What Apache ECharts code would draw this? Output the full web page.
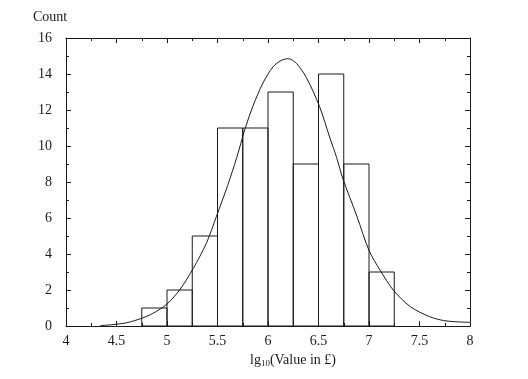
<!DOCTYPE html>
<html>
<head>
<meta charset="utf-8">
<script src="https://cdn.jsdelivr.net/npm/echarts@6/dist/echarts.min.js"></script>
<style>
html,body{margin:0;padding:0;background:#fff;}
#chart{width:528px;height:379px;}
</style>
</head>
<body>
<div id="chart"></div>
<script>
// Histogram bins (lg10 of value in £)
const binStart = [4.75, 5.0, 5.25, 5.5, 5.75, 6.0, 6.25, 6.5, 6.75, 7.0];
const binEnd   = [5.0, 5.25, 5.5, 5.75, 6.0, 6.25, 6.5, 6.75, 7.0, 7.25];
const counts   = [1, 2, 5, 11, 11, 13, 9, 14, 9, 3];

// Fitted curve
const curveX = [4.34, 4.45, 4.6, 4.75, 4.86, 5.0, 5.13, 5.26, 5.39, 5.49, 5.6, 5.69, 5.77, 5.85, 5.95, 6.05, 6.13, 6.2, 6.28, 6.38, 6.51, 6.61, 6.68, 6.74, 6.88, 7.0, 7.11, 7.24, 7.41, 7.6, 7.74, 7.85, 8.0];
const curveY = [0.02, 0.07, 0.18, 0.43, 0.7, 1.22, 2.04, 3.2, 4.6, 6.1, 7.8, 9.35, 10.9, 12.2, 13.5, 14.4, 14.75, 14.85, 14.6, 13.8, 12.2, 10.5, 9.35, 8.2, 6.1, 4.2, 3.1, 2.0, 1.07, 0.52, 0.3, 0.24, 0.2];

const xTicks = [4, 4.5, 5, 5.5, 6, 6.5, 7, 7.5, 8];
const yTicks = [0, 2, 4, 6, 8, 10, 12, 14, 16];

const bars = binStart.map((s, i) => [s, binEnd[i], counts[i]]);
const curve = curveX.map((x, i) => [x, curveY[i]]);

const font = 'Liberation Serif';
const ink = '#1a1a1a';

const chart = echarts.init(document.getElementById('chart'), null, {renderer: 'canvas'});
chart.setOption({
  animation: false,
  backgroundColor: '#fff',
  grid: {left: 66, right: 58, top: 38, bottom: 53},
  xAxis: [{
    type: 'value', min: xTicks[0], max: xTicks[xTicks.length - 1], interval: 0.5,
    position: 'bottom',
    name: '{a|lg}{b|10}{a|(Value in £)}',
    nameLocation: 'middle', nameGap: 25,
    nameTextStyle: {
      padding: [0, 0, 0, 50],
      rich: {
        a: {fontFamily: font, fontSize: 14, color: ink},
        b: {fontFamily: font, fontSize: 9, color: ink, verticalAlign: 'bottom', padding: [7, 0, 0, 0]}
      }
    },
    axisLine: {show: true, onZero: false, lineStyle: {color: ink, width: 1}},
    axisTick: {show: true, inside: true, length: 5, lineStyle: {color: ink}},
    minorTick: {show: true, splitNumber: 2, length: 3, lineStyle: {color: ink}},
    splitLine: {show: false},
    axisLabel: {fontFamily: font, fontSize: 14, color: ink, margin: 8,
      formatter: v => String(v)}
  }, {
    type: 'value', min: xTicks[0], max: xTicks[xTicks.length - 1], interval: 0.5,
    position: 'top',
    axisLine: {show: true, onZero: false, lineStyle: {color: ink, width: 1}},
    axisTick: {show: true, inside: true, length: 5, lineStyle: {color: ink}},
    minorTick: {show: true, splitNumber: 2, length: 3, lineStyle: {color: ink}},
    splitLine: {show: false},
    axisLabel: {show: false}
  }],
  yAxis: [{
    type: 'value', min: yTicks[0], max: yTicks[yTicks.length - 1], interval: 2,
    position: 'left',
    name: 'Count', nameLocation: 'end', nameGap: 14,
    nameTextStyle: {fontFamily: font, fontSize: 14, color: ink, align: 'center', padding: [0, 32, 0, 0]},
    axisLine: {show: true, onZero: false, lineStyle: {color: ink, width: 1}},
    axisTick: {show: true, inside: true, length: 5, lineStyle: {color: ink}},
    minorTick: {show: true, splitNumber: 2, length: 3, lineStyle: {color: ink}},
    splitLine: {show: false},
    axisLabel: {fontFamily: font, fontSize: 14, color: ink, margin: 14}
  }, {
    type: 'value', min: yTicks[0], max: yTicks[yTicks.length - 1], interval: 2,
    position: 'right',
    axisLine: {show: true, onZero: false, lineStyle: {color: ink, width: 1}},
    axisTick: {show: true, inside: true, length: 5, lineStyle: {color: ink}},
    minorTick: {show: true, splitNumber: 2, length: 3, lineStyle: {color: ink}},
    splitLine: {show: false},
    axisLabel: {show: false}
  }],
  series: [{
    type: 'custom',
    xAxisIndex: 0, yAxisIndex: 0,
    data: bars,
    encode: {x: [0, 1], y: 2},
    renderItem: function (params, api) {
      const x0 = api.value(0), x1 = api.value(1), h = api.value(2);
      const p0 = api.coord([x0, h]);
      const p1 = api.coord([x1, 0]);
      return {
        type: 'rect',
        shape: {x: p0[0], y: p0[1], width: p1[0] - p0[0], height: p1[1] - p0[1]},
        style: {fill: 'rgba(255,255,255,0)', stroke: ink, lineWidth: 1}
      };
    }
  }, {
    type: 'line',
    xAxisIndex: 0, yAxisIndex: 0,
    data: curve,
    smooth: 0.3,
    showSymbol: false,
    symbol: 'none',
    lineStyle: {color: ink, width: 1}
  }]
});
</script>
</body>
</html>
